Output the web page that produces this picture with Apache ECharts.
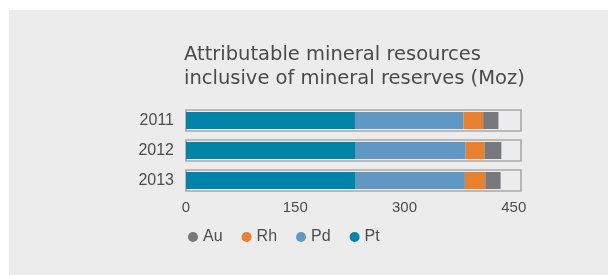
<!DOCTYPE html>
<html>
<head>
<meta charset="utf-8">
<script src="https://cdn.jsdelivr.net/npm/echarts@6/dist/echarts.min.js"></script>
<style>
  html, body { margin: 0; padding: 0; background: #fff; }
  #chart { width: 608px; height: 275px; }
</style>
</head>
<body>
<div id="chart"></div>
<script>
// data (Moz)
const years = ['2011', '2012', '2013'];
const pt = [232, 233, 233];
const pd = [149, 151, 150];
const rh = [27, 26, 28];
const au = [21, 23, 21];
const xTicks = [0, 150, 300, 450];
const frame = [0, 0, 0]; // only used to draw the grey outline boxes

const colors = { Pt: '#0083a9', Pd: '#6198c3', Rh: '#e8812f', Au: '#77787b' };
const font = 'Liberation Sans, Arial, Helvetica, sans-serif';

const chart = echarts.init(document.getElementById('chart'));

const stackSeries = (name, data) => ({
  name: name,
  type: 'bar',
  stack: 'total',
  yAxisIndex: 0,
  barWidth: 17,
  data: data,
  itemStyle: { color: colors[name] },
  z: 3
});

const option = {
  animation: false,
  backgroundColor: '#ffffff',
  textStyle: { fontFamily: font },
  graphic: [{
    type: 'rect',
    left: 9,
    top: 10,
    shape: { width: 599, height: 265 },
    style: { fill: '#ececec' },
    z: -10
  }],
  title: {
    text: 'Attributable mineral resources\ninclusive of mineral reserves (Moz)',
    left: 184,
    top: 43.5,
    padding: 0,
    textStyle: {
      fontFamily: 'DejaVu Sans',
      fontSize: 19.5,
      fontWeight: 'normal',
      color: '#4a4a4a',
      lineHeight: 23.5
    }
  },
  legend: {
    data: ['Au', 'Rh', 'Pd', 'Pt'],
    left: 188,
    top: 229,
    padding: 0,
    icon: 'circle',
    itemWidth: 10,
    itemHeight: 10,
    itemGap: 19,
    textStyle: { fontFamily: font, fontSize: 16, color: '#4d4d4d' }
  },
  grid: { left: 186, right: 87, top: 105.5, bottom: 79.5 },
  xAxis: {
    type: 'value',
    min: 0,
    max: 460,
    interval: 150,
    axisLine: { show: false },
    axisTick: { show: false },
    splitLine: { show: false },
    axisLabel: {
      margin: 5,
      fontFamily: font,
      fontSize: 15,
      color: '#4d4d4d',
      formatter: v => (xTicks.indexOf(v) >= 0 ? String(v) : '')
    }
  },
  yAxis: [{
    type: 'category',
    data: years,
    inverse: true,
    axisLine: { show: false },
    axisTick: { show: false },
    axisLabel: { margin: 12, fontFamily: font, fontSize: 16, color: '#4d4d4d' }
  }, {
    type: 'category',
    data: years,
    inverse: true,
    show: false
  }],
  series: [
    {
      name: 'frame',
      type: 'bar',
      yAxisIndex: 1,
      barWidth: 21,
      data: frame,
      silent: true,
      showBackground: true,
      backgroundStyle: { color: 'rgba(0,0,0,0)', borderColor: '#a8a8a8', borderWidth: 1.6 },
      itemStyle: { color: 'rgba(0,0,0,0)' },
      z: 1
    },
    stackSeries('Pt', pt),
    stackSeries('Pd', pd),
    stackSeries('Rh', rh),
    stackSeries('Au', au)
  ]
};

chart.setOption(option);
window.addEventListener('resize', () => chart.resize());
</script>
</body>
</html>
